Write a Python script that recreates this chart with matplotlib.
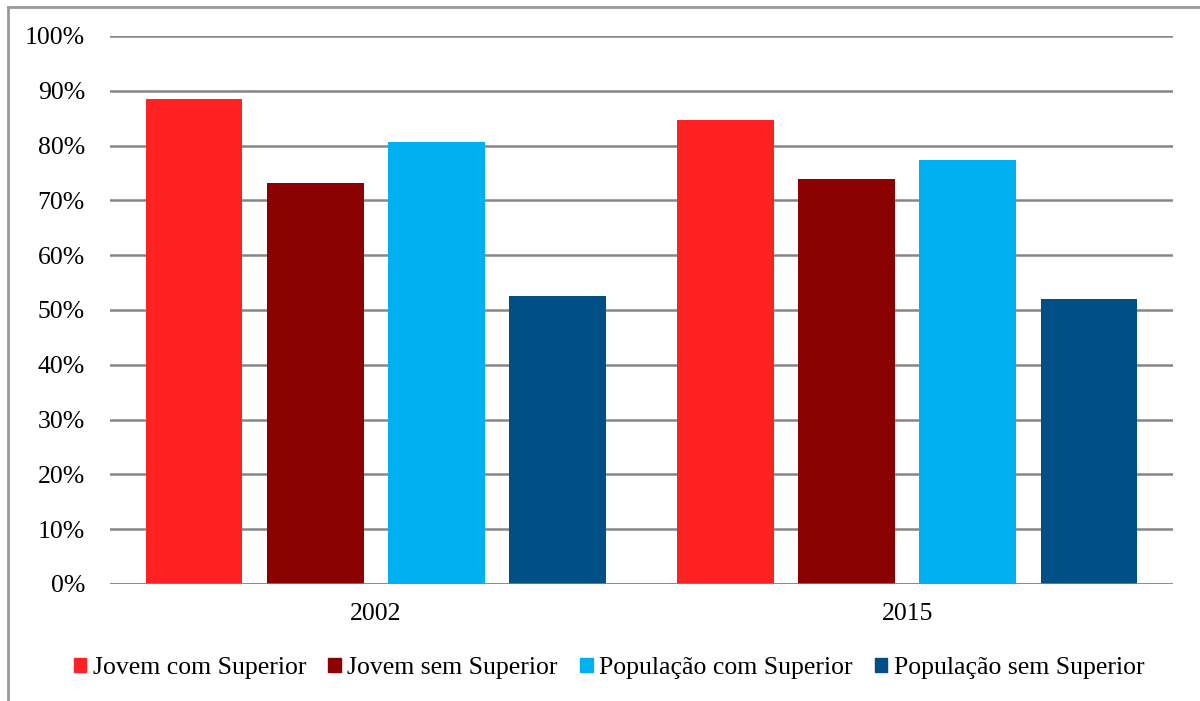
import matplotlib
matplotlib.use("Agg")
import matplotlib.pyplot as plt
from matplotlib.patches import Rectangle
from matplotlib.lines import Line2D
import numpy as np

years = ["2002", "2015"]
series_names = ["Jovem com Superior", "Jovem sem Superior",
                "População com Superior", "População sem Superior"]
jovem_com = [88.5, 84.7]
jovem_sem = [73.2, 73.9]
pop_com = [80.7, 77.4]
pop_sem = [52.5, 52.0]
colors = ["#FF2222", "#8B0000", "#00B0F0", "#004F86"]
y_ticks = list(range(0, 101, 10))

plt.rcParams["font.family"] = ["Liberation Serif", "DejaVu Serif"]

fig = plt.figure(figsize=(12.0, 7.01), dpi=100)
W, H = 1200, 701
ax = fig.add_axes([110 / W, 1 - 584 / H, (1173 - 110) / W, (584 - 36) / H])

x = np.arange(len(years))
offsets = [-0.342, -0.114, 0.114, 0.342]
width = 0.182
values = [jovem_com, jovem_sem, pop_com, pop_sem]
for vals, off, c in zip(values, offsets, colors):
    ax.bar(x + off, vals, width=width, color=c, zorder=3)

ax.set_xlim(-0.5, 1.5)
ax.set_ylim(0, 100)
ax.set_yticks(y_ticks)
ax.set_yticklabels([f"{t}%" for t in y_ticks])
ax.set_xticks(x)
ax.set_xticklabels(years)
ax.tick_params(axis="both", length=0, labelsize=18.5, colors="black")
ax.tick_params(axis="y", pad=18)
ax.tick_params(axis="x", pad=14)
ax.yaxis.grid(True, color="#868686", linewidth=1.8, zorder=0)
for s in ax.spines.values():
    s.set_visible(False)
ax.axhline(0, color="#868686", linewidth=1.8, zorder=4)

handles = [Rectangle((0, 0), 1, 1, color=c) for c in colors]
fig.legend(handles, series_names, loc="center", bbox_to_anchor=(609 / W, 1 - 668 / H),
           ncol=4, frameon=False, fontsize=18.5, handlelength=0.5, handleheight=0.5,
           handletextpad=0.25, columnspacing=0.85, borderaxespad=0)

# outer frame
fig.add_artist(Line2D([7.5 / W, 7.5 / W], [0, 1 - 6.5 / H], transform=fig.transFigure,
                      color="#999999", linewidth=2))
fig.add_artist(Line2D([7.5 / W, 1.0], [1 - 6.5 / H, 1 - 6.5 / H], transform=fig.transFigure,
                      color="#999999", linewidth=2))

fig.savefig("out.png", dpi=100)
